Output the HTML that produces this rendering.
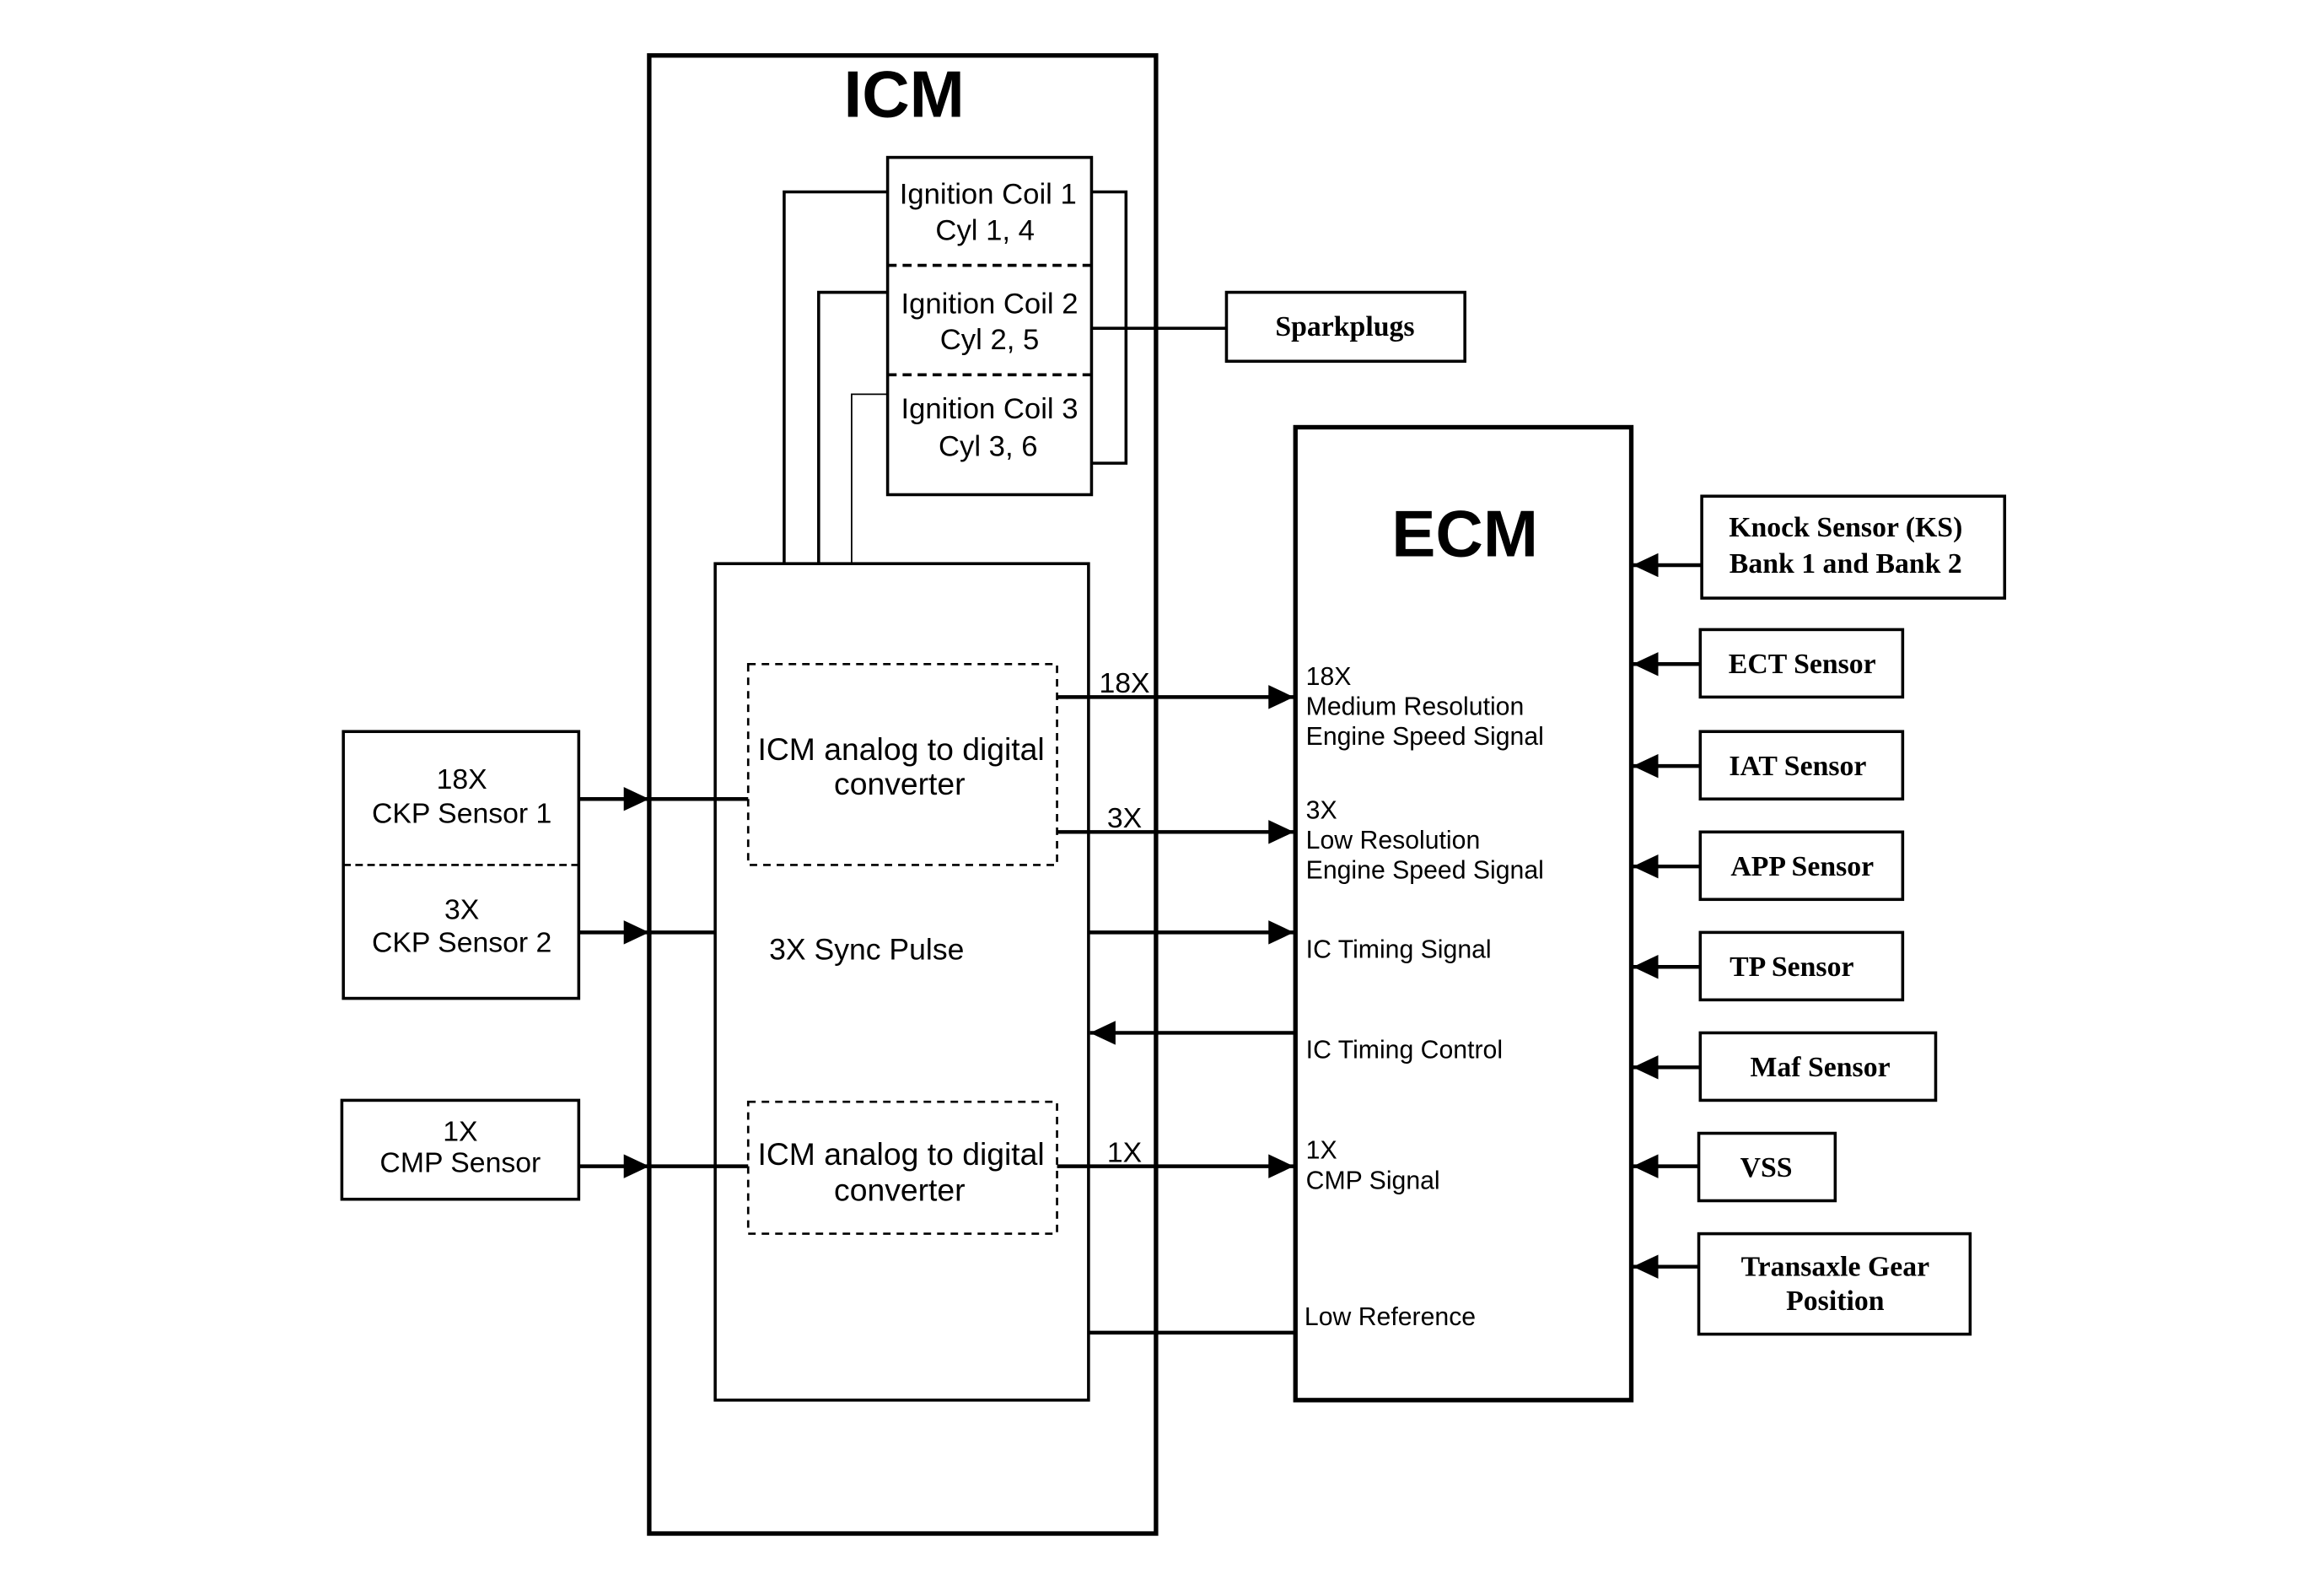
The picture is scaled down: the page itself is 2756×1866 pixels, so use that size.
<!DOCTYPE html>
<html><head><style>html,body{margin:0;padding:0;background:#fff}svg{display:block}</style></head>
<body>
<svg width="2756" height="1866" viewBox="0 0 1550 1050" preserveAspectRatio="none" xmlns="http://www.w3.org/2000/svg">
<defs>
<marker id="a" markerWidth="18" markerHeight="16" refX="17" refY="8" orient="auto" markerUnits="userSpaceOnUse"><path d="M0,0 L17,8 L0,16z"/></marker>
</defs>
<style>
.s{font-family:"Liberation Sans",sans-serif;fill:#000}
.b{font-family:"Liberation Serif",serif;font-weight:bold;fill:#000}
</style>
<g fill="none" stroke="#000">
<rect x="433" y="37" width="338" height="986" stroke-width="3"/>
<rect x="477" y="376" width="249" height="558" stroke-width="2"/>
<rect x="592" y="105" width="136" height="225" stroke-width="2"/>
<line x1="592" y1="177" x2="728" y2="177" stroke-width="2" stroke-dasharray="6,4"/>
<line x1="592" y1="250" x2="728" y2="250" stroke-width="2" stroke-dasharray="6,4"/>
<polyline points="592,128 523,128 523,376" stroke-width="2"/>
<polyline points="592,195 546,195 546,376" stroke-width="2"/>
<polyline points="592,263 568,263 568,376" stroke-width="1"/>
<polyline points="728,128 751,128 751,309 728,309" stroke-width="2"/>
<line x1="728" y1="219" x2="818" y2="219" stroke-width="2"/>
<rect x="818" y="195" width="159" height="46" stroke-width="2"/>
<rect x="499" y="443" width="206" height="134" stroke-width="1.5" stroke-dasharray="5,4"/>
<rect x="499" y="735" width="206" height="88" stroke-width="1.5" stroke-dasharray="5,4"/>
<rect x="229" y="488" width="157" height="178" stroke-width="2"/>
<line x1="229" y1="577" x2="386" y2="577" stroke-width="1.5" stroke-dasharray="5,3"/>
<rect x="228" y="734" width="158" height="66" stroke-width="2"/>
<rect x="864" y="285" width="224" height="649" stroke-width="3"/>
<g stroke-width="2">
<rect x="1135" y="331" width="202" height="68"/>
<rect x="1134" y="420" width="135" height="45"/>
<rect x="1134" y="488" width="135" height="45"/>
<rect x="1134" y="555" width="135" height="45"/>
<rect x="1134" y="622" width="135" height="45"/>
<rect x="1134" y="689" width="157" height="45"/>
<rect x="1133" y="756" width="91" height="45"/>
<rect x="1133" y="823" width="181" height="67"/>
</g>
<g stroke-width="2.5">
<line x1="386" y1="533" x2="433" y2="533" marker-end="url(#a)"/>
<line x1="433" y1="533" x2="499" y2="533"/>
<line x1="386" y1="622" x2="433" y2="622" marker-end="url(#a)"/>
<line x1="433" y1="622" x2="477" y2="622"/>
<line x1="386" y1="778" x2="433" y2="778" marker-end="url(#a)"/>
<line x1="433" y1="778" x2="499" y2="778"/>
<line x1="705" y1="465" x2="863" y2="465" marker-end="url(#a)"/>
<line x1="705" y1="555" x2="863" y2="555" marker-end="url(#a)"/>
<line x1="726" y1="622" x2="863" y2="622" marker-end="url(#a)"/>
<line x1="863" y1="689" x2="727" y2="689" marker-end="url(#a)"/>
<line x1="705" y1="778" x2="863" y2="778" marker-end="url(#a)"/>
<line x1="726" y1="889" x2="864" y2="889"/>
<line x1="1135" y1="377" x2="1089" y2="377" marker-end="url(#a)"/>
<line x1="1134" y1="443" x2="1089" y2="443" marker-end="url(#a)"/>
<line x1="1134" y1="511" x2="1089" y2="511" marker-end="url(#a)"/>
<line x1="1134" y1="578" x2="1089" y2="578" marker-end="url(#a)"/>
<line x1="1134" y1="645" x2="1089" y2="645" marker-end="url(#a)"/>
<line x1="1134" y1="712" x2="1089" y2="712" marker-end="url(#a)"/>
<line x1="1133" y1="778" x2="1089" y2="778" marker-end="url(#a)"/>
<line x1="1133" y1="845" x2="1089" y2="845" marker-end="url(#a)"/>
</g>
</g>
<text class="s" x="603" y="78" font-size="44" font-weight="bold" text-anchor="middle">ICM</text>
<text class="s" x="977" y="371" font-size="44" font-weight="bold" text-anchor="middle">ECM</text>
<g class="s" font-size="19.5" text-anchor="middle">
<text x="659" y="136">Ignition Coil 1</text><text x="657" y="160">Cyl 1, 4</text>
<text x="660" y="209">Ignition Coil 2</text><text x="660" y="233">Cyl 2, 5</text>
<text x="660" y="279">Ignition Coil 3</text><text x="659" y="304">Cyl 3, 6</text>
</g>
<g class="s" font-size="21" text-anchor="middle">
<text x="601" y="507">ICM analog to digital</text><text x="600" y="530">converter</text>
<text x="601" y="777">ICM analog to digital</text><text x="600" y="801">converter</text>
</g>
<g class="s" font-size="19" text-anchor="middle">
<text x="308" y="526">18X</text><text x="308" y="549">CKP Sensor 1</text>
<text x="308" y="613">3X</text><text x="308" y="635">CKP Sensor 2</text>
<text x="307" y="761">1X</text><text x="307" y="782">CMP Sensor</text>
<text x="750" y="462">18X</text><text x="750" y="552">3X</text><text x="750" y="775">1X</text>
</g>
<text class="s" x="513" y="640" font-size="20">3X Sync Pulse</text>
<g class="s" font-size="17">
<text x="871" y="457">18X</text><text x="871" y="477">Medium Resolution</text><text x="871" y="497">Engine Speed Signal</text>
<text x="871" y="546">3X</text><text x="871" y="566">Low Resolution</text><text x="871" y="586">Engine Speed Signal</text>
<text x="871" y="639">IC Timing Signal</text>
<text x="871" y="706">IC Timing Control</text>
<text x="871" y="773">1X</text><text x="871" y="793">CMP Signal</text>
<text x="870" y="884">Low Reference</text>
</g>
<g class="b" font-size="19" text-anchor="middle">
<text x="897" y="224">Sparkplugs</text>
<text x="1231" y="358">Knock Sensor (KS)</text><text x="1231" y="382">Bank 1 and Bank 2</text>
<text x="1202" y="449">ECT Sensor</text>
<text x="1199" y="517">IAT Sensor</text>
<text x="1202" y="584">APP Sensor</text>
<text x="1195" y="651">TP Sensor</text>
<text x="1214" y="718">Maf Sensor</text>
<text x="1178" y="785">VSS</text>
<text x="1224" y="851">Transaxle Gear</text><text x="1224" y="874">Position</text>
</g>
</svg>
</body></html>
